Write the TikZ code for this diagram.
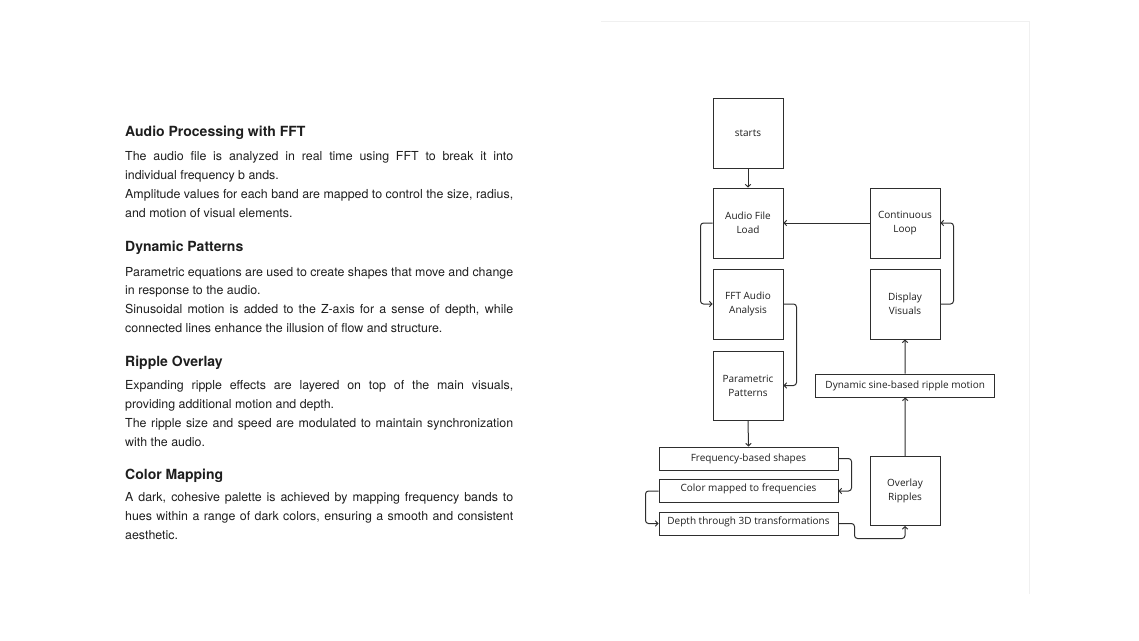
\documentclass[tikz,border=0pt]{standalone}
\usepackage{fontspec}
\setmainfont{TeX Gyre Heros}
\newfontfamily\diafont{Open Sans}
\usetikzlibrary{arrows.meta}
\definecolor{txt}{HTML}{1E1E1E}
\definecolor{ln}{HTML}{2E2E2E}
\definecolor{faint}{HTML}{F0F0F0}
\tikzset{
  box/.style={draw=ln, line width=1pt, rectangle, inner sep=0pt, align=center,
    font=\diafont\fontsize{10}{14}\selectfont, text=txt},
  sq/.style={box, minimum width=70pt, minimum height=70pt},
  wide/.style={box, minimum width=179pt, minimum height=23pt},
  conn/.style={draw=ln, line width=1pt, rounded corners=3pt,
    -{Straight Barb[length=2.5pt,width=5.5pt]}},
  ttl/.style={anchor=base west, inner sep=0pt, text=txt, font=\bfseries\fontsize{14}{16}\selectfont},
  bdy/.style={anchor=base west, inner sep=0pt, text=txt, font=\fontsize{12.4}{15}\selectfont},
}
\newcommand{\jl}[1]{\makebox[388pt][s]{#1}}
\begin{document}
\begin{tikzpicture}[x=1pt,y=-1pt]
\useasboundingbox (0,0) rectangle (1139,640);
% faint panel edge
\draw[faint, line width=0.8pt] (601,21) -- (1029,21) -- (1029,594);

% left text
\node[ttl] (t1) at (125,136) {Audio Processing with FFT};
\node[bdy] (b1) at (125,160) {\jl{The audio file is analyzed in real time using FFT to break it into}};
\node[bdy] (b2) at (125,179) {individual frequency b ands.};
\node[bdy] (b3) at (125,198) {\jl{Amplitude values for each band are mapped to control the size, radius,}};
\node[bdy] (b4) at (125,217) {and motion of visual elements.};

\node[ttl] (t2) at (125,251) {Dynamic Patterns};
\node[bdy] (b5) at (125,276) {\jl{Parametric equations are used to create shapes that move and change}};
\node[bdy] (b6) at (125,294.5) {in response to the audio.};
\node[bdy] (b7) at (125,313.5) {\jl{Sinusoidal motion is added to the Z-axis for a sense of depth, while}};
\node[bdy] (b8) at (125,332) {connected lines enhance the illusion of flow and structure.};

\node[ttl] (t3) at (125,366) {Ripple Overlay};
\node[bdy] (b9) at (125,389) {\jl{Expanding ripple effects are layered on top of the main visuals,}};
\node[bdy] (b10) at (125,408) {providing additional motion and depth.};
\node[bdy] (b11) at (125,427) {\jl{The ripple size and speed are modulated to maintain synchronization}};
\node[bdy] (b12) at (125,446) {with the audio.};

\node[ttl] (t4) at (125,479) {Color Mapping};
\node[bdy] (b13) at (125,501) {\jl{A dark, cohesive palette is achieved by mapping frequency bands to}};
\node[bdy] (b14) at (125,520) {\jl{hues within a range of dark colors, ensuring a smooth and consistent}};
\node[bdy] (b15) at (125,539) {aesthetic.};

% diagram nodes
\node[sq] (starts) at (748,133) {starts};
\node[sq] (audio) at (748,223) {Audio File\\Load};
\node[sq] (cont) at (905,223) {Continuous\\Loop};
\node[sq] (fft) at (748,304) {FFT Audio\\Analysis};
\node[sq] (disp) at (905,304) {Display\\Visuals};
\node[sq, minimum height=69pt] (param) at (748,385.5) {Parametric\\Patterns};
\node[wide] (dyn) at (905.2,385.5) {Dynamic sine-based ripple motion};
\node[wide] (freq) at (748.5,458.5) {Frequency-based shapes};
\node[wide, text depth=6.5pt] (color) at (748.5,491) {Color mapped to frequencies};
\node[wide, text depth=6.5pt] (depth) at (748.5,523.5) {Depth through 3D transformations};
\node[sq, minimum height=69pt] (overlay) at (905,491) {Overlay\\Ripples};

% connectors
\draw[conn] (starts.south) -- (audio.north);
\draw[conn] (cont.west) -- (audio.east);
\draw[conn] (audio.west) -- ++(-12,0) |- (fft.west);
\draw[conn] (fft.east) -- ++(13,0) |- (param.east);
\draw[conn] (param.south) -- (freq.north);
\draw[conn] (freq.east) -- ++(13,0) |- (color.east);
\draw[conn] (color.west) -- ++(-13,0) |- (depth.west);
\draw[conn] (depth.east) -- ++(16,0) -- ++(0,15) -| (overlay.south);
\draw[conn] (overlay.north) -- (dyn.south);
\draw[conn] (dyn.north) -- (disp.south);
\draw[conn] (disp.east) -- ++(13,0) |- (cont.east);
\end{tikzpicture}
\end{document}
